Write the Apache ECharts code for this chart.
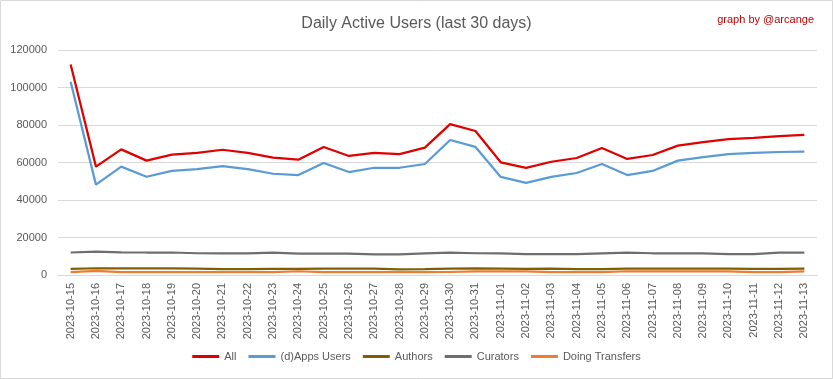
<!DOCTYPE html>
<html>
<head>
<meta charset="utf-8">
<script src="https://cdn.jsdelivr.net/npm/echarts@6/dist/echarts.min.js"></script>
<style>
html,body{margin:0;padding:0;background:#fff;}
#c{width:833px;height:379px;}
</style>
</head>
<body>
<div id="c"></div>
<script>
const categories = ["2023-10-15","2023-10-16","2023-10-17","2023-10-18","2023-10-19","2023-10-20","2023-10-21","2023-10-22","2023-10-23","2023-10-24","2023-10-25","2023-10-26","2023-10-27","2023-10-28","2023-10-29","2023-10-30","2023-10-31","2023-11-01","2023-11-02","2023-11-03","2023-11-04","2023-11-05","2023-11-06","2023-11-07","2023-11-08","2023-11-09","2023-11-10","2023-11-11","2023-11-12","2023-11-13"];
const allUsers = [112300,57800,67000,61000,64200,65100,66800,65100,62600,61500,68300,63500,65100,64500,67900,80500,76800,60100,57100,60400,62400,67700,61900,64000,69000,70900,72500,73100,74100,74700];
const appsUsers = [103100,48200,57800,52400,55500,56500,58100,56500,54000,53300,59700,54900,57200,57200,59200,72000,68300,52300,49100,52300,54400,59200,53300,55500,61000,62900,64500,65100,65600,65800];
const authors = [3300,3600,3500,3500,3500,3400,3100,3100,3300,3300,3400,3400,3400,3000,3100,3400,3500,3400,3300,3400,3100,3100,3400,3400,3400,3400,3400,3300,3300,3400];
const curators = [12000,12500,12100,12000,12000,11600,11500,11500,11900,11400,11400,11400,11000,11000,11500,11900,11600,11500,11100,11100,11100,11500,11900,11600,11600,11500,11100,11100,11900,11900];
const transfers = [1500,2200,1500,1500,1500,1500,1500,1500,1500,2000,1500,1500,1500,1500,1500,1600,1900,1900,1900,1500,1500,1500,2000,2000,2000,2000,1900,1500,1500,1900];
const yTicks = [0,20000,40000,60000,80000,100000,120000];

const FONT = "'Liberation Sans', 'DejaVu Sans', sans-serif";
const chart = echarts.init(document.getElementById('c'), null, {renderer:'canvas'});
function mk(name, data, color){
  return {name, type:'line', data, symbol:'none', smooth:false,
    lineStyle:{color, width:2.25}, itemStyle:{color}, z: 2};
}
chart.setOption({
  animation:false,
  backgroundColor:'#ffffff',
  textStyle:{fontFamily:FONT},
  title:[{
    text:'Daily Active Users (last 30 days)', left:'center', top:11,
    textStyle:{fontFamily:FONT, fontSize:16, fontWeight:'normal', color:'#595959'}
  },{
    text:'graph by @arcange', right:14, top:9,
    textStyle:{fontFamily:FONT, fontSize:11, fontWeight:'normal', color:'#c00000'}
  }],
  graphic:[{type:'rect', shape:{x:0.5,y:0.5,width:832,height:378}, style:{fill:'none', stroke:'#d9d9d9', lineWidth:1}, silent:true}],
  grid:{left:58, right:16, top:50, bottom:104, containLabel:false},
  legend:{
    bottom:12, left:'center', itemWidth:27, itemHeight:3, itemGap:12,
    icon:'rect',
    textStyle:{fontFamily:FONT, fontSize:11, color:'#595959'},
    data:['All','(d)Apps Users','Authors','Curators','Doing Transfers']
  },
  xAxis:{
    type:'category', data:categories, boundaryGap:true,
    axisLine:{lineStyle:{color:'#d9d9d9'}},
    axisTick:{show:false},
    axisLabel:{rotate:90, interval:0, fontFamily:FONT, fontSize:11, color:'#595959', margin:8}
  },
  yAxis:{
    type:'value', min:yTicks[0], max:yTicks[yTicks.length-1], interval:20000,
    axisLine:{show:false}, axisTick:{show:false},
    splitLine:{lineStyle:{color:'#d9d9d9', width:1}},
    axisLabel:{fontFamily:FONT, fontSize:11, color:'#595959', margin:11, formatter:v => String(v)}
  },
  series:[
    mk('All', allUsers, '#e00000'),
    mk('(d)Apps Users', appsUsers, '#5b9bd5'),
    mk('Authors', authors, '#7f6000'),
    mk('Curators', curators, '#6e6e6e'),
    mk('Doing Transfers', transfers, '#ed7d31')
  ]
});
</script>
</body>
</html>
